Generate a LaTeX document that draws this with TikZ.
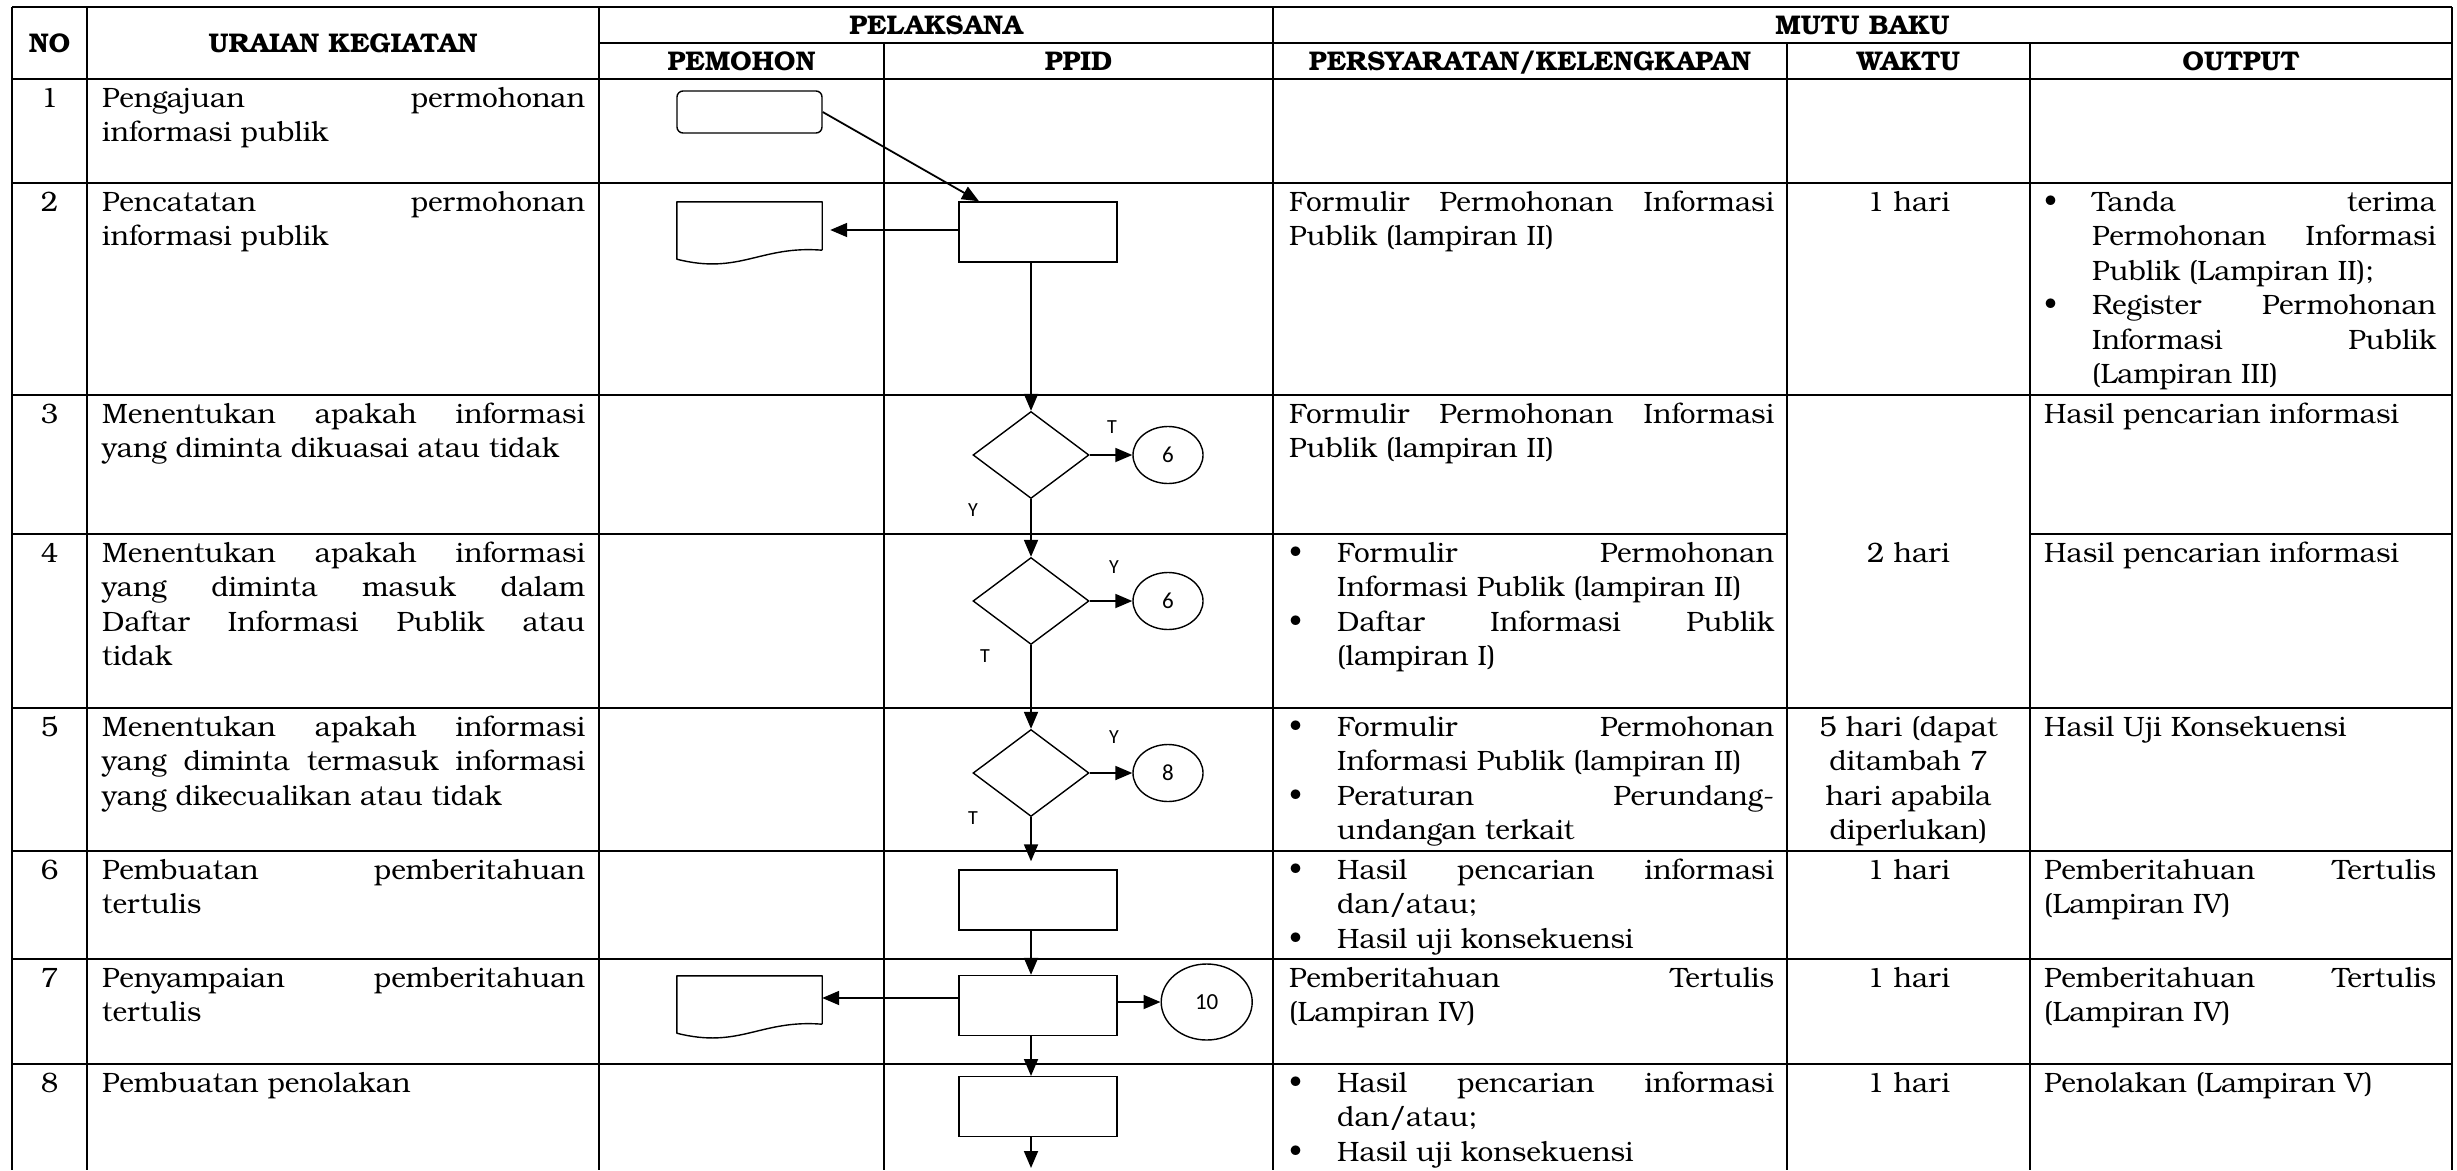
\documentclass[tikz,border=0pt]{standalone}
\usepackage{fontspec}
\setmainfont{texgyrebonum}[Extension=.otf, UprightFont=*-regular, BoldFont=*-bold, ItalicFont=*-italic, BoldItalicFont=*-bolditalic]
\newfontfamily\hurufsans{Carlito}
\usetikzlibrary{shapes.geometric, arrows.meta, calc}
\setlength{\parindent}{0pt}
\hbadness=10000
\newcommand{\isi}{\fontsize{28}{34.5}\selectfont}
\newcommand{\butir}[1]{\hangindent=48pt\hangafter=1\noindent\hbox to 48pt{\strut\textbullet\hfil}#1\par}

\begin{document}
\begin{tikzpicture}[x=1pt, y=-1pt,
    garis/.style={line width=1.6pt},
    tebal/.style={line width=2pt},
    judul/.style={anchor=base, inner sep=0, font=\bfseries\fontsize{27}{30}\selectfont},
    nomor/.style={anchor=base, inner sep=0, font=\isi},
    teks/.style={anchor=north west, inner sep=0, align=justify, font=\isi, execute at begin node=\strut},
    daftar/.style={anchor=north west, inner sep=0, align=justify, font=\isi},
    tengah/.style={anchor=north, inner sep=0, align=center, text width=230pt, font=\isi, execute at begin node=\strut},
    mulai/.style={draw, line width=1.4pt, rounded corners=6pt, minimum width=145pt, minimum height=42pt, inner sep=0},
    dokumen/.style={minimum width=145pt, minimum height=48pt, inner sep=0},
    proses/.style={draw, line width=1.4pt, minimum width=158pt, minimum height=60pt, inner sep=0},
    keputusan/.style={draw, diamond, line width=1.4pt, minimum width=116pt, minimum height=87pt, inner sep=0},
    penghubung/.style={draw, ellipse, line width=1.4pt, minimum width=70pt, minimum height=57pt, inner sep=0, font=\hurufsans\fontsize{23}{25}\selectfont},
    ket/.style={inner sep=0, font=\hurufsans\fontsize{20}{22}\selectfont},
    panah/.style={line width=1.8pt, -{Triangle[length=17pt, width=14pt]}}
]
    \useasboundingbox (0,0) rectangle (2457,1170);

    % Dibuja la tabla
    \draw[line width=2.8pt] (12,7) -- (2452,7);
    \draw[tebal] (599,43) -- (2452,43);
    \draw[line width=2.8pt] (12,79) -- (2452,79);
    \draw[tebal] (12,183) -- (2452,183);
    \draw[tebal] (12,395) -- (2452,395);
    \draw[tebal] (12,534) -- (1787,534);
    \draw[tebal] (2030,534) -- (2452,534);
    \draw[tebal] (12,708) -- (2452,708);
    \draw[tebal] (12,851) -- (2452,851);
    \draw[tebal] (12,959) -- (2452,959);
    \draw[tebal] (12,1064) -- (2452,1064);
    \draw[tebal] (12,7) -- (12,1170);
    \draw[garis] (87,7) -- (87,1170);
    \draw[garis] (599,7) -- (599,1170);
    \draw[garis] (884,43) -- (884,1170);
    \draw[garis] (1273,7) -- (1273,1170);
    \draw[garis] (1787,43) -- (1787,1170);
    \draw[garis] (2030,43) -- (2030,1170);
    \draw[tebal] (2452,7) -- (2452,1170);

    % Encabezado
    \node[judul] (kno) at (49.5,52) {NO};
    \node[judul] (kuraian) at (343,52) {URAIAN KEGIATAN};
    \node[judul] (kpelaksana) at (936,34) {PELAKSANA};
    \node[judul] (kmutu) at (1862.5,34) {MUTU BAKU};
    \node[judul] (kpemohon) at (741.5,70) {PEMOHON};
    \node[judul] (kppid) at (1078.5,70) {PPID};
    \node[judul] (ksyarat) at (1530,70) {PERSYARATAN/KELENGKAPAN};
    \node[judul] (kwaktu) at (1908.5,70) {WAKTU};
    \node[judul] (koutput) at (2241,70) {OUTPUT};

    % Fila 1
    \node[nomor] (no1) at (49.5,107) {1};
    \node[teks, text width=483pt] (uraian1) at (102,83) {Pengajuan permohonan\linebreak informasi publik};

    % Fila 2
    \node[nomor] (no2) at (49.5,211) {2};
    \node[teks, text width=483pt] (uraian2) at (102,187) {Pencatatan permohonan\linebreak informasi publik};
    \node[teks, text width=485pt] (syarat2) at (1289,187) {Formulir Permohonan Informasi\linebreak Publik (lampiran II)};
    \node[tengah] (waktu2) at (1908.5,187) {1 hari};
    \node[daftar, text width=392pt] (output2) at (2044,187) {\butir{Tanda terima\linebreak Permohonan Informasi\linebreak Publik (Lampiran II);}\butir{Register Permohonan\linebreak Informasi Publik\linebreak (Lampiran III)}};

    % Fila 3
    \node[nomor] (no3) at (49.5,423) {3};
    \node[teks, text width=483pt] (uraian3) at (102,399) {Menentukan apakah informasi\linebreak yang diminta dikuasai atau tidak};
    \node[teks, text width=485pt] (syarat3) at (1289,399) {Formulir Permohonan Informasi\linebreak Publik (lampiran II)};
    \node[nomor] (waktu3) at (1908.5,562) {2 hari};
    \node[teks, text width=392pt] (output3) at (2044,399) {Hasil pencarian informasi};

    % Fila 4
    \node[nomor] (no4) at (49.5,562) {4};
    \node[teks, text width=483pt] (uraian4) at (102,538) {Menentukan apakah informasi\linebreak yang diminta masuk dalam\linebreak Daftar Informasi Publik atau\linebreak tidak};
    \node[daftar, text width=485pt] (syarat4) at (1289,538) {\butir{Formulir Permohonan\linebreak Informasi Publik (lampiran II)}\butir{Daftar Informasi Publik\linebreak (lampiran I)}};
    \node[teks, text width=392pt] (output4) at (2044,538) {Hasil pencarian informasi};

    % Fila 5
    \node[nomor] (no5) at (49.5,736) {5};
    \node[teks, text width=483pt] (uraian5) at (102,712) {Menentukan apakah informasi\linebreak yang diminta termasuk informasi\linebreak yang dikecualikan atau tidak};
    \node[daftar, text width=485pt] (syarat5) at (1289,712) {\butir{Formulir Permohonan\linebreak Informasi Publik (lampiran II)}\butir{Peraturan Perundang-\linebreak undangan terkait}};
    \node[tengah] (waktu5) at (1908.5,712) {5 hari (dapat\\ ditambah 7\\ hari apabila\\ diperlukan)};
    \node[teks, text width=392pt] (output5) at (2044,712) {Hasil Uji Konsekuensi};

    % Fila 6
    \node[nomor] (no6) at (49.5,879) {6};
    \node[teks, text width=483pt] (uraian6) at (102,855) {Pembuatan pemberitahuan\linebreak tertulis};
    \node[daftar, text width=485pt] (syarat6) at (1289,855) {\butir{Hasil pencarian informasi\linebreak dan/atau;}\butir{Hasil uji konsekuensi}};
    \node[tengah] (waktu6) at (1908.5,855) {1 hari};
    \node[teks, text width=392pt] (output6) at (2044,855) {Pemberitahuan Tertulis\linebreak (Lampiran IV)};

    % Fila 7
    \node[nomor] (no7) at (49.5,987) {7};
    \node[teks, text width=483pt] (uraian7) at (102,963) {Penyampaian pemberitahuan\linebreak tertulis};
    \node[teks, text width=485pt] (syarat7) at (1289,963) {Pemberitahuan Tertulis\linebreak (Lampiran IV)};
    \node[tengah] (waktu7) at (1908.5,963) {1 hari};
    \node[teks, text width=392pt] (output7) at (2044,963) {Pemberitahuan Tertulis\linebreak (Lampiran IV)};

    % Fila 8
    \node[nomor] (no8) at (49.5,1092) {8};
    \node[teks, text width=483pt] (uraian8) at (102,1068) {Pembuatan penolakan};
    \node[daftar, text width=485pt] (syarat8) at (1289,1068) {\butir{Hasil pencarian informasi\linebreak dan/atau;}\butir{Hasil uji konsekuensi}};
    \node[tengah] (waktu8) at (1908.5,1068) {1 hari};
    \node[teks, text width=392pt] (output8) at (2044,1068) {Penolakan (Lampiran V)};

    % Dibuja el diagrama de flujo
    \node[mulai] (mulai) at (749.5,112) {};
    \node[dokumen] (dok2) at (749.5,226) {};
    \node[proses] (proses2) at (1038,232) {};
    \node[keputusan] (kep3) at (1031,455) {};
    \node[penghubung] (hub3) at (1168,455) {6};
    \node[keputusan] (kep4) at (1031,601) {};
    \node[penghubung] (hub4) at (1168,601) {6};
    \node[keputusan] (kep5) at (1031,773) {};
    \node[penghubung] (hub5) at (1168,773) {8};
    \node[proses] (proses6) at (1038,900) {};
    \node[proses] (proses7) at (1038,1005.5) {};
    \node[dokumen] (dok7) at (749.5,1000) {};
    \node[penghubung, minimum width=91pt, minimum height=76pt] (hub7) at (1206.7,1002) {10};
    \node[proses] (proses8) at (1038,1106.7) {};
    \coordinate (akhir) at (1031,1168);

    % Dibuja los documentos
    \draw[line width=1.4pt, line join=round] (dok2.south east) -- (dok2.north east) -- (dok2.north west) -- ([yshift=-9pt]dok2.south west) .. controls +(63,16) and +(-62,-5) .. (dok2.south east);
    \draw[line width=1.4pt, line join=round] (dok7.south east) -- (dok7.north east) -- (dok7.north west) -- ([yshift=-9pt]dok7.south west) .. controls +(63,16) and +(-62,-5) .. (dok7.south east);

    % Etiquetas Y / T
    \node[ket] (t3) at ($(kep3)+(81,-28)$) {T};
    \node[ket] (y3) at ($(kep3)+(-58,55)$) {Y};
    \node[ket] (y4) at ($(kep4)+(83,-34)$) {Y};
    \node[ket] (t4) at ($(kep4)+(-46,55)$) {T};
    \node[ket] (y5) at ($(kep5)+(83,-36)$) {Y};
    \node[ket] (t5) at ($(kep5)+(-58,45)$) {T};

    % Dibuja las flechas
    \draw[panah] (mulai.east) -- ($(proses2.north west)!0.13!(proses2.north east)$);
    \draw[panah, shorten >=8pt] ($(proses2.west)+(0,-2)$) -- ($(proses2.west -| dok2.east)+(0,-2)$);
    \draw[panah] (proses2.south -| kep3.north) -- (kep3.north);
    \draw[panah] (kep3.east) -- (hub3.west);
    \draw[panah] (kep3.south) -- (kep4.north);
    \draw[panah] (kep4.east) -- (hub4.west);
    \draw[panah] (kep4.south) -- (kep5.north);
    \draw[panah] (kep5.east) -- (hub5.west);
    \draw[panah, shorten >=8pt] (kep5.south) -- (kep5.south |- proses6.north);
    \draw[panah] (proses6.south -| kep5.south) -- (proses7.north -| kep5.south);
    \draw[panah] ($(proses7.west)+(0,-7.5)$) -- ($(proses7.west -| dok7.east)+(0,-7.5)$);
    \draw[panah] (proses7.east |- hub7.west) -- (hub7.west);
    \draw[panah] (proses7.south -| kep5.south) -- (proses8.north -| kep5.south);
    \draw[panah] (proses8.south -| kep5.south) -- (akhir);
\end{tikzpicture}
\end{document}
